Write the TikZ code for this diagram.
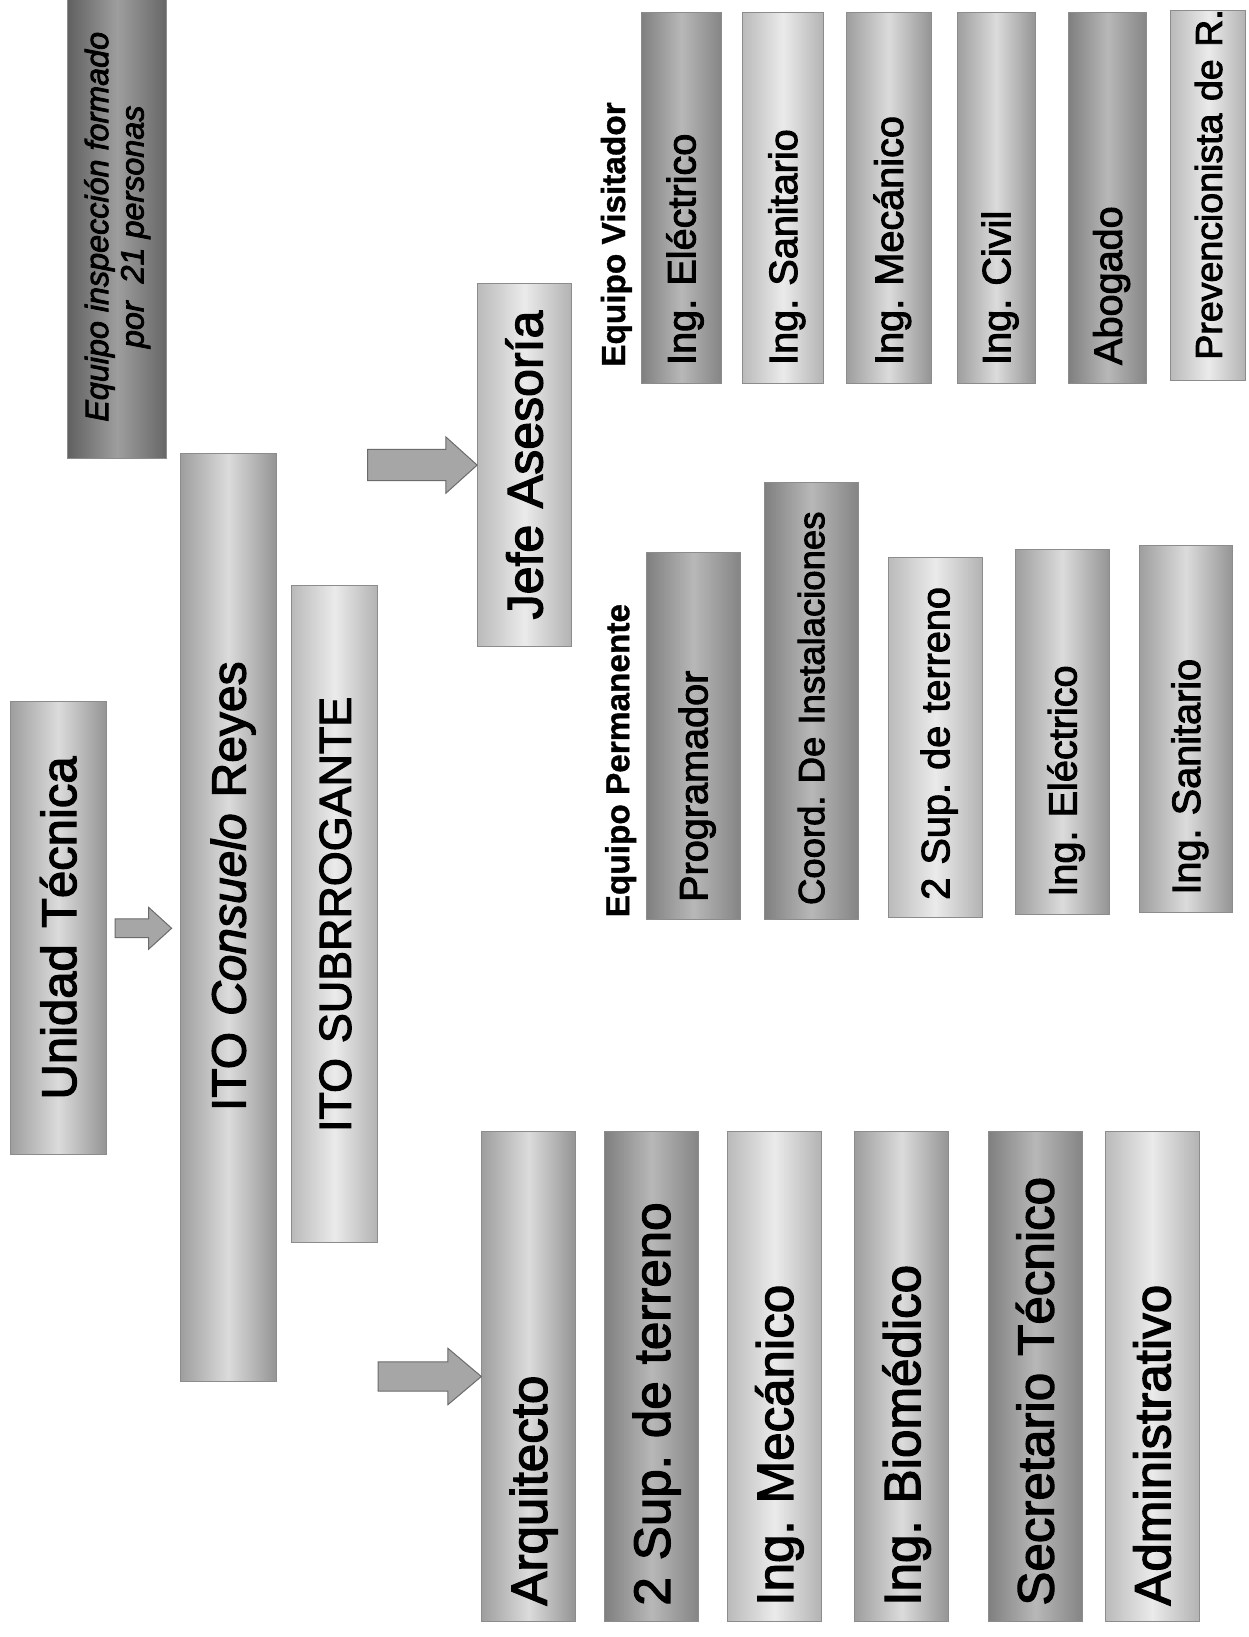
\documentclass[tikz,border=0pt]{standalone}
\usepackage{fontspec}
\setmainfont{Liberation Sans}
\newfontfamily\bx{Liberation Sans}[FakeBold=2.5]
\newfontfamily\lbx{Liberation Sans Bold}[FakeBold=1]
\usetikzlibrary{calc}
\tikzset{
  boxbase/.style={rotate=90, draw=black!45, line width=0.9pt, inner sep=0pt},
  shm/.style={left color=black!38, right color=black!42, middle color=black!14},
  shl/.style={left color=black!27, right color=black!30, middle color=black!8},
  shs/.style={left color=black!50, right color=black!48, middle color=black!28},
  shd/.style={left color=black!62, right color=black!60, middle color=black!38},
  headbox/.style={boxbase, shm, align=center},
  colbox/.style={boxbase, shm, minimum width=470, minimum height=90, text width=440, align=left,
    font=\fontsize{49}{49}\bx\frenchspacing, text height=35pt, text depth=0pt},
  permbox/.style={boxbase, shm, minimum height=90, align=left,
    font=\fontsize{38}{38}\bx\frenchspacing, text height=27pt, text depth=0pt},
  visbox/.style={boxbase, shm, align=left,
    font=\fontsize{38}{38}\bx\frenchspacing, text height=27pt, text depth=0pt},
  grouplabel/.style={rotate=90, anchor=west, inner sep=0pt,
    font=\fontsize{32}{32}\lbx, text height=23pt, text depth=0pt},
  blockarrow/.style={fill=black!35, draw=black!58, line width=1pt, line join=miter},
}
\newcommand\blockarr[5]{%
  \draw[blockarrow] ($(#1 |- #2)+(0,-#5)$) -- ($(#2)+(-#3,-#5)$) -- ($(#2)+(-#3,-#4)$) -- (#2)
    -- ($(#2)+(-#3,#4)$) -- ($(#2)+(-#3,#5)$) -- ($(#1 |- #2)+(0,#5)$) -- cycle;}
\begin{document}
\begin{tikzpicture}[x=1pt,y=-1pt]
\fill[white] (0,0) rectangle (1248,1637);
\useasboundingbox (0,0) rectangle (1248,1637);
\begin{scope}[scale=1.0426, transform shape]
% top left
\node[boxbase, shd, minimum width=445, minimum height=95, align=center,
  font=\fontsize{31}{34}\bx\itshape] (insp) at (112.5,217.5)
  {Equipo inspección formado\\por \ 21 personas};

\node[headbox, minimum width=434, minimum height=92, text width=410,
  font=\fontsize{47}{47}\bx, text height=34pt, text depth=0pt] (ut) at (56,890) {Unidad Técnica};
\node[headbox, minimum width=890, minimum height=92, text width=860,
  font=\fontsize{46}{46}\bx, text height=33pt, text depth=0pt] (ito) at (219,880)
  {\hspace*{60pt}ITO \textit{Consuelo} Reyes};
\node[headbox, shl, minimum width=630, minimum height=82, text width=600,
  font=\fontsize{43}{43}\bx, text height=31pt, text depth=0pt] (sub) at (321,877) {ITO SUBRROGANTE};
\node[headbox, shl, minimum width=348, minimum height=90, text width=330,
  font=\fontsize{48}{48}\bx, text height=34.5pt, text depth=0pt] (jefe) at (503,446) {Jefe Asesoría};

% bottom column
\node[colbox] (arq) at (507,1320) {Arquitecto};
\node[colbox, shs] (sup1) at (625,1320) {2 Sup. de terreno};
\node[colbox, shl] (mec) at (743,1320) {Ing. Mecánico};
\node[colbox] (bio) at (865,1320) {Ing. Biomédico};
\node[colbox, shs] (sec) at (993,1320) {Secretario Técnico};
\node[colbox, shl] (adm) at (1105,1320) {Administrativo};

% equipo permanente
\node[grouplabel] (perm) at (592,880) {Equipo Permanente};
\node[permbox, shs, minimum width=352, text width=318] (prog) at (665,706) {Programador};
\node[permbox, shs, minimum width=419, text width=391, font=\fontsize{35}{35}\bx\frenchspacing, text height=25pt] (coord) at (778,672.5) {\mbox{Coord. De Instalaciones}};
\node[permbox, shl, minimum width=345, text width=311] (sup2) at (897,707.5) {2 Sup. de terreno};
\node[permbox, minimum width=350, text width=316] (iel) at (1019,702) {Ing. Eléctrico};
\node[permbox, minimum width=352, text width=318] (isan) at (1137.5,699) {Ing. Sanitario};

% equipo visitador
\node[grouplabel] (visit) at (588,352) {Equipo Visitador};
\node[visbox, shs, minimum width=356, minimum height=77, text width=320] (v1) at (653.5,190) {Ing. Eléctrico};
\node[visbox, shl, minimum width=356, minimum height=78, text width=320] (v2) at (751,190) {Ing. Sanitario};
\node[visbox, minimum width=356, minimum height=81, text width=320] (v3) at (852.5,190) {Ing. Mecánico};
\node[visbox, minimum width=356, minimum height=75, text width=320] (v4) at (955.5,190) {Ing. Civil};
\node[visbox, shs, minimum width=356, minimum height=75, text width=320] (v5) at (1062.5,190) {Abogado};
\node[visbox, shl, minimum width=355, minimum height=72, text width=315,
  font=\fontsize{36}{36}\bx\frenchspacing, text height=26pt] (v6) at (1159,187.5) {\mbox{Prevencionista de R.}};

% arrows
\coordinate (a1s) at ($(ut.south)+(8,0)$);
\coordinate (a1e) at ($(ito.north |- ut.south)+(-8,0)$);
\blockarr{a1s}{a1e}{22}{20}{9}
\coordinate (a2s) at ($(sub.south |- jefe.north)+(-10,0)$);
\blockarr{a2s}{jefe.north}{30}{27}{15}
\coordinate (a3s) at (sub.south |- arq.north);
\blockarr{a3s}{arq.north}{32}{27}{14}
\end{scope}
\end{tikzpicture}
\end{document}
